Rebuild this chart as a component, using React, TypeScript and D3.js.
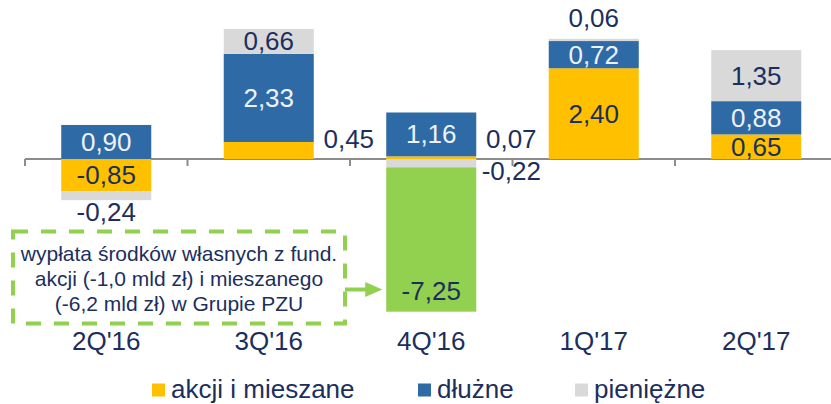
import React from "react";
import * as d3 from "d3";

const categories = ["2Q'16", "3Q'16", "4Q'16", "1Q'17", "2Q'17"];
const akcji = [-0.85, 0.45, 0.07, 2.4, 0.65];
const dluzne = [0.9, 2.33, 1.16, 0.72, 0.88];
const pieniezne = [-0.24, 0.66, -0.22, 0.06, 1.35];
const wyplata = [0, 0, -7.25, 0, 0];

const seriesNames = ["akcji i mieszane", "dłużne", "pieniężne", "wypłata"];
const seriesColors = ["#ffc000", "#2e6aa5", "#d9d9d9", "#92d050"];
const labelColors = ["#1b2f5e", "#eef2f8", "#1b2f5e", "#1b2f5e"];
const legendNames = ["akcji i mieszane", "dłużne", "pieniężne"];
const annotationLines = [
  "wypłata środków własnych z fund.",
  "akcji (-1,0 mld zł) i mieszanego",
  "(-6,2 mld zł) w Grupie PZU",
];

const W = 831;
const H = 404;
const NAVY = "#1b2f5e";
const FONT = "'Liberation Sans', Arial, sans-serif";

const fmt = (v: number) => v.toFixed(2).replace(".", ",");

export default function App() {
  const rows = categories.map((c, i) => ({
    cat: c,
    s0: akcji[i],
    s1: dluzne[i],
    s2: pieniezne[i],
    s3: wyplata[i],
  }));
  const keys = ["s0", "s1", "s2", "s3"];
  const stack = d3.stack<any>().keys(keys).offset(d3.stackOffsetDiverging);
  const stacked = stack(rows);

  const x = d3
    .scaleBand<string>()
    .domain(categories)
    .range([25, 837.5])
    .paddingInner(0.446)
    .paddingOuter(0.223);
  const y = d3.scaleLinear().domain([-4.04, 4.206]).range([311.7, 0]).clamp(true);
  const bw = x.bandwidth();
  const y0 = y(0);
  const step = x.step();

  const segs: any[] = [];
  stacked.forEach((layer, si) => {
    layer.forEach((d, ci) => {
      const v = (rows[ci] as any)[keys[si]];
      if (!v) return;
      segs.push({ si, ci, v, lo: Math.min(d[0], d[1]), hi: Math.max(d[0], d[1]) });
    });
  });

  const labels: any[] = [];
  segs.forEach((s) => {
    const cx = (x(categories[s.ci]) as number) + bw / 2;
    const yTop = y(s.hi);
    const yBot = y(s.lo);
    const h = yBot - yTop;
    const sameSide = segs.filter(
      (o) => o.ci === s.ci && Math.sign(o.v) === Math.sign(s.v)
    );
    const outermost =
      s.v > 0
        ? Math.max(...sameSide.map((o) => o.hi)) === s.hi
        : Math.min(...sameSide.map((o) => o.lo)) === s.lo;
    const clipped = s.lo < y.domain()[0];
    let lx = cx;
    let ly = 0;
    let color = labelColors[s.si];
    if (clipped) {
      ly = yBot - 12;
    } else if (h >= 20) {
      ly = (yTop + yBot) / 2 + 9;
    } else if (outermost) {
      color = NAVY;
      ly = s.v > 0 ? yTop - 12 : yBot + 21;
    } else {
      color = NAVY;
      lx = (x(categories[s.ci]) as number) + bw + 35;
      ly = s.v > 0 ? y0 - 11 : y0 + 21;
    }
    labels.push({ lx, ly, color, text: fmt(s.v), key: `${s.si}-${s.ci}` });
  });

  const ticks = d3.range(categories.length + 1).map((i) => 25 + i * step);
  const legendX = [152, 418, 575];

  const boxX = 13;
  const boxY = 231.5;
  const boxW = 332;
  const boxH = 92;
  const arrowY = 289.5;
  const greenX = x(categories[2]) as number;

  return (
    <svg
      width={W}
      height={H}
      style={{ position: "absolute", left: 0, top: 0, background: "#fff" }}
      fontFamily={FONT}
    >
      <rect x={0} y={0} width={W} height={H} fill="#fff" />
      {/* axis */}
      <line x1={25} x2={W} y1={y0} y2={y0} stroke="#8c8c8c" strokeWidth={2} />
      {ticks.map((t) => (
        <line key={t} x1={t} x2={t} y1={y0} y2={y0 + 7} stroke="#8c8c8c" strokeWidth={2} />
      ))}
      {/* bars */}
      {segs.map((s) => (
        <rect
          key={`r-${s.si}-${s.ci}`}
          x={x(categories[s.ci])}
          width={bw}
          y={y(s.hi)}
          height={y(s.lo) - y(s.hi)}
          fill={seriesColors[s.si]}
        />
      ))}
      {/* value labels */}
      {labels.map((l) => (
        <text
          key={l.key}
          x={l.lx}
          y={l.ly}
          textAnchor="middle"
          fontSize={26}
          fill={l.color}
        >
          {l.text}
        </text>
      ))}
      {/* category labels */}
      {categories.map((c) => (
        <text
          key={c}
          x={(x(c) as number) + bw / 2}
          y={350}
          textAnchor="middle"
          fontSize={26}
          fill={NAVY}
        >
          {c}
        </text>
      ))}
      {/* annotation */}
      <rect
        x={boxX}
        y={boxY}
        width={boxW}
        height={boxH}
        fill="none"
        stroke="#92d050"
        strokeWidth={4}
        strokeDasharray="15 13"
      />
      {annotationLines.map((t, i) => (
        <text
          key={i}
          x={boxX + boxW / 2}
          y={260.7 + i * 25}
          textAnchor="middle"
          fontSize={21}
          fill={NAVY}
        >
          {t}
        </text>
      ))}
      <line
        x1={boxX + boxW}
        x2={greenX - 18}
        y1={arrowY}
        y2={arrowY}
        stroke="#92d050"
        strokeWidth={4}
      />
      <path
        d={`M${greenX - 4},${arrowY} L${greenX - 21},${arrowY - 7.5} L${greenX - 21},${arrowY + 7.5} Z`}
        fill="#92d050"
      />
      {/* legend */}
      {legendNames.map((n, i) => (
        <g key={n}>
          <rect x={legendX[i]} y={383.5} width={13} height={13} fill={seriesColors[i]} />
          <text x={legendX[i] + 19} y={398} fontSize={26} fill={NAVY}>
            {n}
          </text>
        </g>
      ))}
    </svg>
  );
}
